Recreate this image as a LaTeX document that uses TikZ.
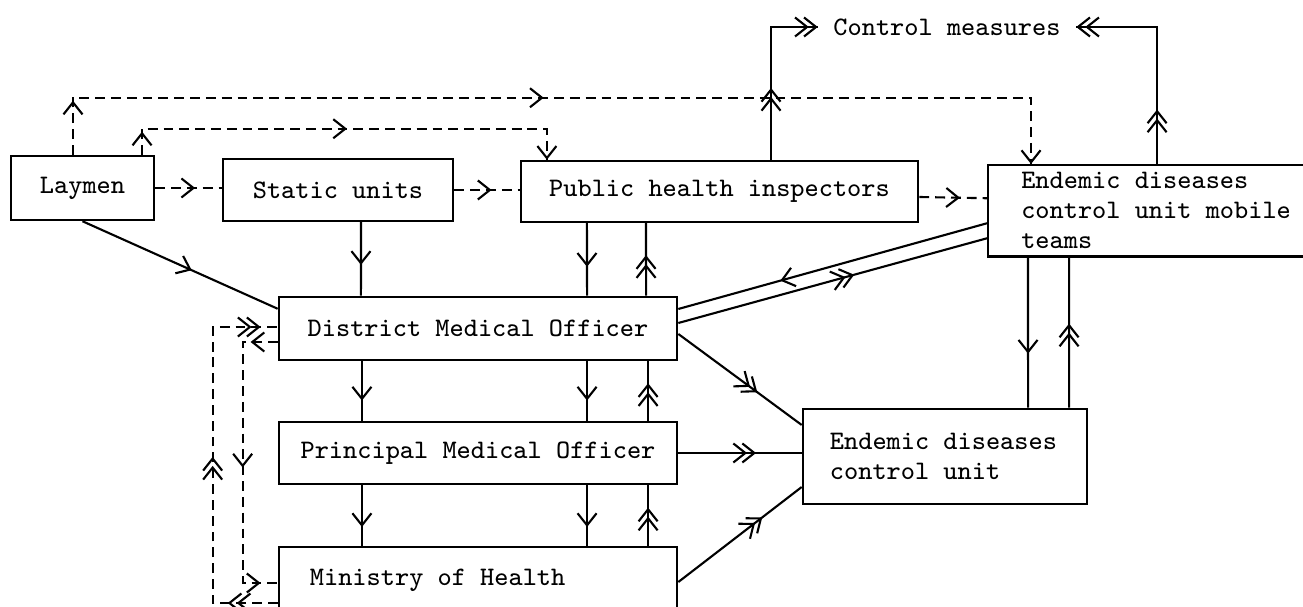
\documentclass[tikz,border=0pt]{standalone}
\usetikzlibrary{arrows.meta,decorations.markings}
\tikzset{
  tipv/.tip={Straight Barb[length=1.2mm,width=1.9mm]},
  box/.style={draw,rectangle,inner sep=0pt,line width=0.7pt,font=\fontsize{7.6}{8.5}\selectfont\ttfamily},
  lbl/.style={inner xsep=0.15cm,inner ysep=0pt,font=\fontsize{7.6}{8.5}\selectfont\ttfamily},
  link/.style={line width=0.6pt},
  hint/.style={link,dash pattern=on 2.8pt off 1.7pt},
  one/.style={postaction={decorate,decoration={markings,mark=at position #1 with {\arrow{tipv}}}}},
  two/.style={postaction={decorate,decoration={markings,mark=at position #1 with {\arrow{tipv}\pgftransformxshift{-0.9mm}\arrow{tipv}}}}},
}
\begin{document}
\begin{tikzpicture}[x=0.01cm,y=-0.01cm]
\useasboundingbox (0,0) rectangle (1303,607);
\clip (0,0) rectangle (1303,607);
%
\node[box,minimum width=1.43cm,minimum height=0.64cm] (lay) at (82.5,188) {Laymen};
\node[box,minimum width=2.30cm,minimum height=0.62cm] (stat) at (338,190) {Static units};
\node[box,minimum width=3.97cm,minimum height=0.61cm] (phi) at (719.5,191.5) {Public health inspectors};
\node[box,anchor=north west,text width=2.83cm,align=flush left,inner xsep=0.33cm,minimum height=0.91cm] (mob) at (987,164) {Endemic diseases\\control unit mobile\\teams};
\node[box,minimum width=3.98cm,minimum height=0.63cm] (dmo) at (478,328.5) {District Medical Officer};
\node[box,minimum width=3.98cm,minimum height=0.62cm] (pmo) at (478,453) {Principal Medical Officer};
\node[box,text width=3.36cm,align=flush left,inner xsep=0.31cm,minimum height=0.66cm] (moh) at (478,580) {Ministry of Health};
\node[box,text width=2.30cm,align=flush left,inner xsep=0.27cm,minimum height=0.95cm] (edcu) at (945,456.5) {Endemic diseases\\control unit};
\node[lbl] (cm) at (947,27) {Control measures};
%
\draw[hint,one=0.6](lay.east)--(lay.east -| stat.west);
\draw[hint,one=0.57](stat.east)--(stat.east -| phi.west);
\draw[hint,one=0.6]([yshift=-0.055cm]phi.east)--([yshift=0.125cm]mob.west);
\draw[hint,one=0.05,one=0.488,one=1]([xshift=-0.095cm]lay.north)--++(0,-57)-|([xshift=0.44cm]mob.north west);
\draw[hint,one=0.05,one=0.5,one=1]([xshift=0.595cm]lay.north)--++(0,-26)-|([xshift=-1.725cm]phi.north);
%
\draw[link,two=0.4,two=1]([xshift=0.515cm]phi.north)|-(cm.west);
\draw[link,two=0.25,two=1]([xshift=1.70cm]mob.north west)|-(cm.east);
%
\draw[link,one=0.56](lay.south)--([yshift=-0.13cm]dmo.north west);
\draw[link,one=0.58]([xshift=0.23cm]stat.south)--([xshift=-1.17cm]dmo.north);
\draw[link,one=0.6]([xshift=-1.325cm]phi.south)--([xshift=1.09cm]dmo.north);
\draw[link,two=0.56]([xshift=1.68cm]dmo.north)--([xshift=-0.735cm]phi.south);
%
\draw[link,one=0.66]([xshift=-1.16cm]dmo.south)--([xshift=-1.16cm]pmo.north);
\draw[link,one=0.66]([xshift=1.09cm]dmo.south)--([xshift=1.09cm]pmo.north);
\draw[link,two=0.63]([xshift=1.70cm]pmo.north)--([xshift=1.70cm]dmo.south);
\draw[link,one=0.69]([xshift=-1.16cm]pmo.south)--([xshift=-1.16cm]moh.north);
\draw[link,one=0.69]([xshift=1.09cm]pmo.south)--([xshift=1.09cm]moh.north);
\draw[link,two=0.63]([xshift=1.70cm]moh.north)--([xshift=1.70cm]pmo.south);
%
\draw[link,one=0.67]([yshift=-0.125cm]mob.west)--([yshift=0.195cm]dmo.east);
\draw[link,two=0.57]([yshift=0.055cm]dmo.east)--([yshift=-0.275cm]mob.west);
\draw[link,two=0.64]([yshift=-0.055cm]dmo.east)--([yshift=0.315cm]edcu.west);
\draw[link,two=0.63](pmo.east)--(pmo.east -| edcu.west);
\draw[link,two=0.68]([yshift=-0.02cm]moh.east)--([yshift=-0.305cm]edcu.west);
\draw[link,one=0.64]([xshift=0.41cm]mob.south west)--([xshift=0.83cm]edcu.north);
\draw[link,two=0.56]([xshift=1.24cm]edcu.north)--([xshift=0.82cm]mob.south west);
%
\draw[hint,two=0.123,two=0.52,two=0.958]([yshift=-0.23cm]moh.west)--++(-65,0)|-([yshift=0.015cm]dmo.west);
\draw[hint,one=0.087,one=0.516,one=0.945]([yshift=-0.135cm]dmo.west)--++(-35,0)|-([yshift=-0.03cm]moh.west);
\end{tikzpicture}
\end{document}
